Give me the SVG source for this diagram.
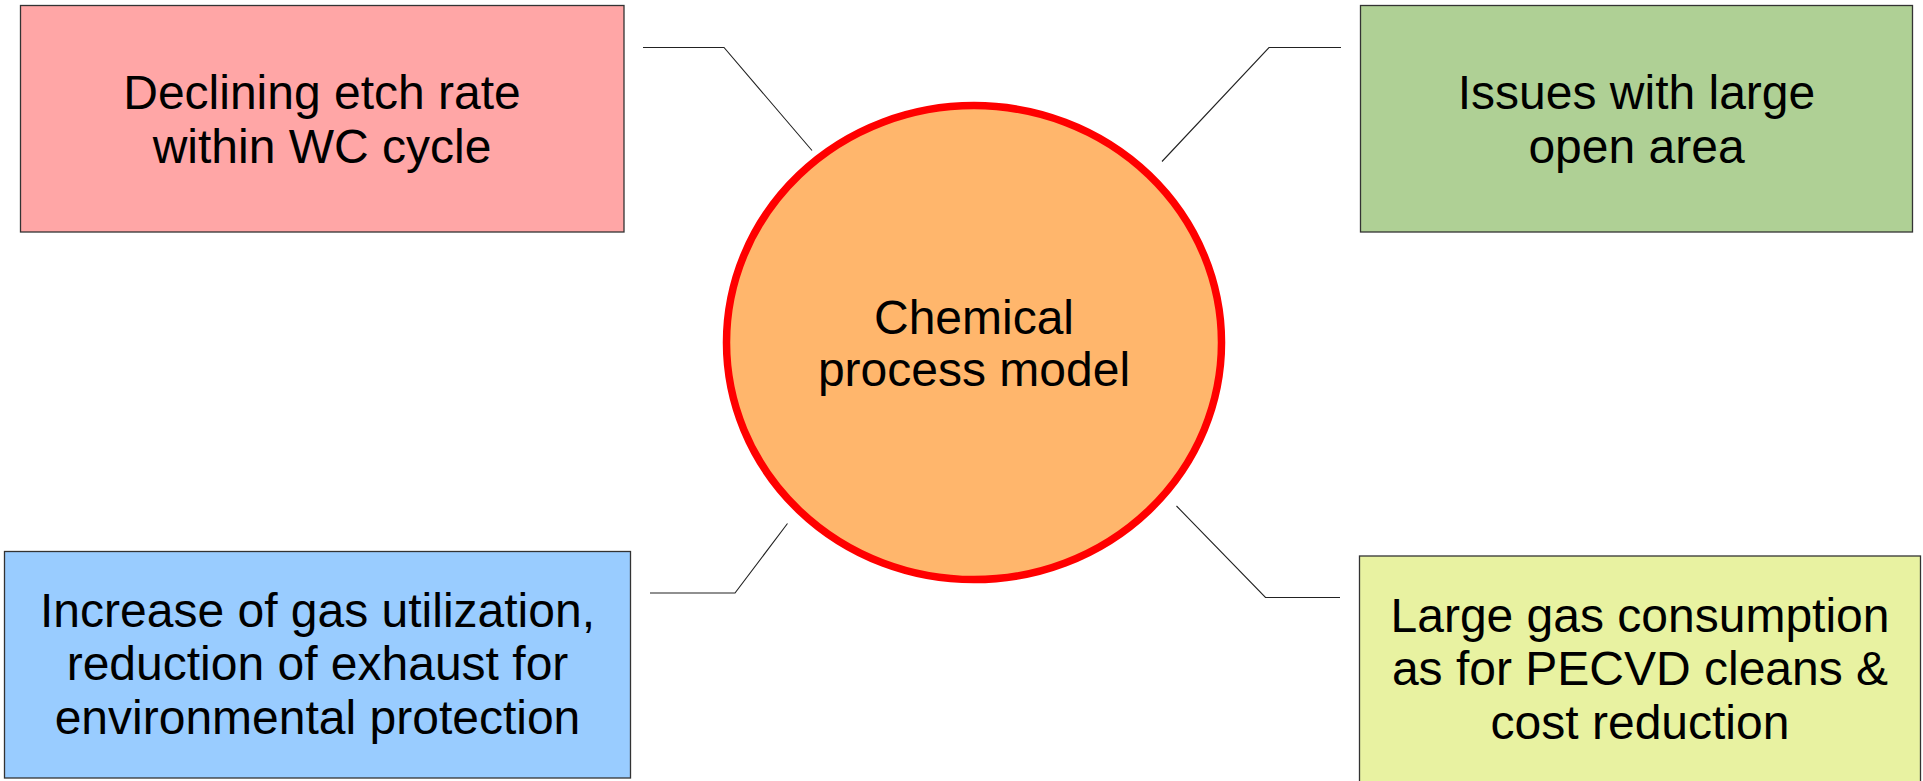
<svg xmlns="http://www.w3.org/2000/svg" width="1923" height="781" viewBox="0 0 1923 781">
<style>
.box{stroke:#333333;stroke-width:1.3}
.t{font-family:"Liberation Sans",Arial,sans-serif;font-size:48px;fill:#000;text-anchor:middle}
.c{fill:none;stroke:#222222;stroke-width:1.1}
</style>
<rect width="1923" height="781" fill="#ffffff"/>
<g id="connectors">
<polyline class="c" points="643,47.5 724,47.5 812,150.5"/>
<polyline class="c" points="1162,161.5 1269,47.5 1341,47.5"/>
<polyline class="c" points="650,593 735,593 787.5,523.5"/>
<polyline class="c" points="1176.5,506 1265.5,597.5 1340,597.5"/>
</g>
<g id="n-center">
<ellipse cx="974" cy="342.6" rx="247.5" ry="237" fill="#ffb66c" stroke="#ff0000" stroke-width="7.5"/>
<text class="t" x="974" y="333.5">Chemical</text>
<text class="t" x="974" y="385.5">process model</text>
</g>
<g id="n-declining">
<rect class="box" x="20.5" y="5.5" width="603.5" height="226.5" fill="#ffa6a6"/>
<text class="t" x="322" y="108.5">Declining etch rate</text>
<text class="t" x="322" y="162.5">within WC cycle</text>
</g>
<g id="n-issues">
<rect class="box" x="1360.5" y="5.5" width="552" height="226.5" fill="#afd095"/>
<text class="t" x="1636.5" y="108.5">Issues with large</text>
<text class="t" x="1636.5" y="162.5">open area</text>
</g>
<g id="n-increase">
<rect class="box" x="4.5" y="551.5" width="626" height="226.5" fill="#99ccff"/>
<text class="t" x="317.5" y="626.5">Increase of gas utilization,</text>
<text class="t" x="317.5" y="680">reduction of exhaust for</text>
<text class="t" x="317.5" y="733.5">environmental protection</text>
</g>
<g id="n-large">
<rect class="box" x="1359.5" y="556" width="561" height="226.5" fill="#e8f2a1"/>
<text class="t" x="1640" y="631.5">Large gas consumption</text>
<text class="t" x="1640" y="685">as for PECVD cleans &amp;</text>
<text class="t" x="1640" y="738.5">cost reduction</text>
</g>
</svg>
